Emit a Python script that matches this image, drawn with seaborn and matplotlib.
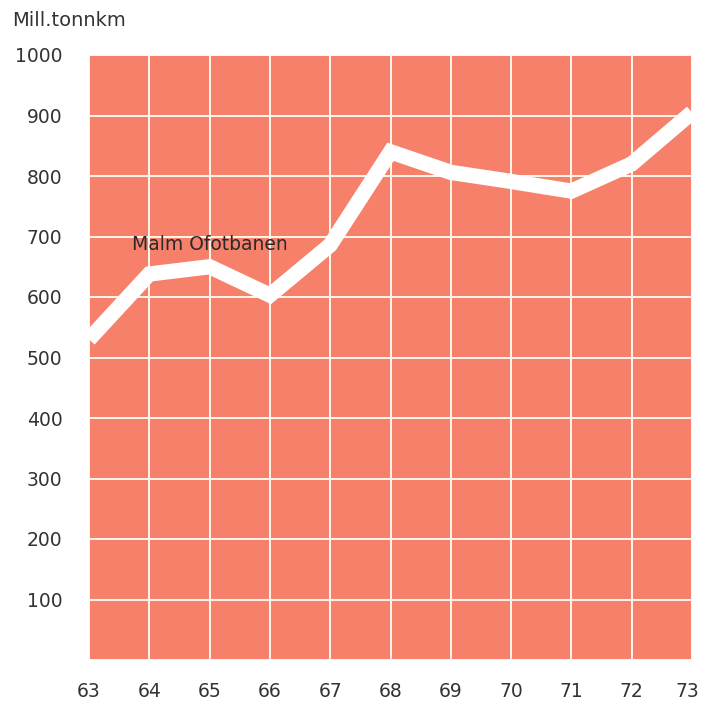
import matplotlib
matplotlib.use("Agg")
import matplotlib.pyplot as plt
import matplotlib.transforms as mtransforms
import seaborn as sns
import pandas as pd

years = [63, 64, 65, 66, 67, 68, 69, 70, 71, 72, 73]
values = [530, 638, 650, 603, 686, 840, 806, 791, 775, 820, 905]
y_ticks = [100, 200, 300, 400, 500, 600, 700, 800, 900, 1000]
series_label = "Malm Ofotbanen"
unit_label = "Mill.tonnkm"

df = pd.DataFrame({"year": years, "value": values})

sns.set_style("white")
plt.rcParams['font.family'] = ['DejaVu Sans']

fig = plt.figure(figsize=(7.02, 7.02), dpi=100)
ax = fig.add_axes([89/702, 42/702, 603/702, 605/702])
ax.set_facecolor("#F6806A")

sns.lineplot(data=df, x="year", y="value", ax=ax, color="white", linewidth=11,
             solid_joinstyle="miter", solid_capstyle="butt", zorder=3)

ax.set_xlim(63, 73)
ax.set_ylim(0, 1000)
ax.set_xticks(years)
ax.set_xticklabels([str(y) for y in years])
ax.set_yticks(range(0, 1001, 100))
ax.set_yticklabels([""] + [str(v) for v in y_ticks])
ax.grid(True, color="#FFF8EE", linewidth=1.4, zorder=1)
ax.set_axisbelow(True)
for s in ax.spines.values():
    s.set_visible(False)
ax.tick_params(axis="both", length=0, labelsize=13.5, labelcolor="#333333")
ax.tick_params(axis="x", pad=16)
ax.tick_params(axis="y", pad=19)
ax.set_xlabel("")
ax.set_ylabel("")

last = ax.get_xticklabels()[-1]
last.set_transform(last.get_transform() +
                   mtransforms.ScaledTranslation(-5/100, 0, fig.dpi_scale_trans))

ax.text(65.0, 686, series_label, ha="center", va="center", fontsize=13.5,
        color="#2a2a2a", zorder=4)
fig.text(12/702, 1 - 20/702, unit_label, ha="left", va="center", fontsize=14,
         color="#333333")

fig.savefig("out.png", dpi=100)
